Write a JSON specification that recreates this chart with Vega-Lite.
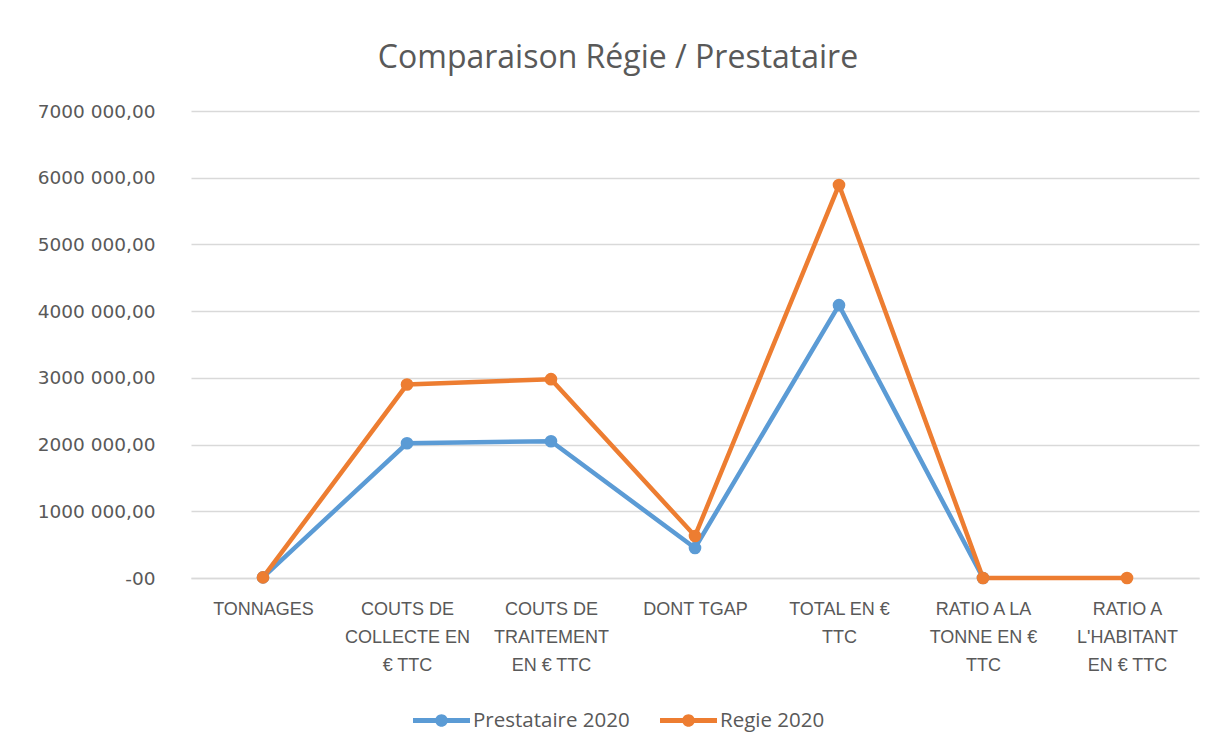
{
  "$schema": "https://vega.github.io/schema/vega-lite/v6.json",
  "autosize": "none",
  "width": 1008,
  "height": 467,
  "padding": {"left": 191, "top": 111, "right": 13, "bottom": 175},
  "background": "white",
  "title": {
    "text": "Comparaison Régie / Prestataire",
    "font": "Open Sans",
    "fontSize": 32,
    "fontWeight": "normal",
    "color": "#595959",
    "anchor": "middle",
    "dx": -77,
    "offset": 27
  },
  "config": {
    "view": {"stroke": null},
    "font": "Liberation Sans"
  },
  "data": {
    "values": [
      {"categorie": "TONNAGES", "ordre": 1, "serie": "Prestataire 2020", "valeur": 9000},
      {"categorie": "COUTS DE COLLECTE EN € TTC", "ordre": 2, "serie": "Prestataire 2020", "valeur": 2020000},
      {"categorie": "COUTS DE TRAITEMENT EN € TTC", "ordre": 3, "serie": "Prestataire 2020", "valeur": 2050000},
      {"categorie": "DONT TGAP", "ordre": 4, "serie": "Prestataire 2020", "valeur": 450000},
      {"categorie": "TOTAL EN € TTC", "ordre": 5, "serie": "Prestataire 2020", "valeur": 4090000},
      {"categorie": "RATIO A LA TONNE EN € TTC", "ordre": 6, "serie": "Prestataire 2020", "valeur": 450},
      {"categorie": "TONNAGES", "ordre": 1, "serie": "Regie 2020", "valeur": 9000},
      {"categorie": "COUTS DE COLLECTE EN € TTC", "ordre": 2, "serie": "Regie 2020", "valeur": 2900000},
      {"categorie": "COUTS DE TRAITEMENT EN € TTC", "ordre": 3, "serie": "Regie 2020", "valeur": 2980000},
      {"categorie": "DONT TGAP", "ordre": 4, "serie": "Regie 2020", "valeur": 630000},
      {"categorie": "TOTAL EN € TTC", "ordre": 5, "serie": "Regie 2020", "valeur": 5890000},
      {"categorie": "RATIO A LA TONNE EN € TTC", "ordre": 6, "serie": "Regie 2020", "valeur": 650},
      {"categorie": "RATIO A L'HABITANT EN € TTC", "ordre": 7, "serie": "Regie 2020", "valeur": 120}
    ]
  },
  "encoding": {
    "x": {
      "field": "categorie",
      "type": "nominal",
      "sort": ["TONNAGES", "COUTS DE COLLECTE EN € TTC", "COUTS DE TRAITEMENT EN € TTC", "DONT TGAP", "TOTAL EN € TTC", "RATIO A LA TONNE EN € TTC", "RATIO A L'HABITANT EN € TTC"],
      "scale": {"type": "point", "padding": 0.5},
      "axis": {
        "title": null,
        "labelAngle": 0,
        "labelFont": "Liberation Sans",
        "labelFontSize": 18,
        "labelColor": "#595959",
        "labelPadding": 22,
        "labelLineHeight": 28,
        "labelBaseline": "top",
        "ticks": false,
        "domain": true,
        "domainColor": "#D9D9D9",
        "domainWidth": 1.5,
        "grid": false,
        "labelExpr": "datum.value == 'COUTS DE COLLECTE EN € TTC' ? ['COUTS DE', 'COLLECTE EN', '€ TTC'] : datum.value == 'COUTS DE TRAITEMENT EN € TTC' ? ['COUTS DE', 'TRAITEMENT', 'EN € TTC'] : datum.value == 'TOTAL EN € TTC' ? ['TOTAL EN €', 'TTC'] : datum.value == 'RATIO A LA TONNE EN € TTC' ? ['RATIO A LA', 'TONNE EN €', 'TTC'] : datum.value == \"RATIO A L'HABITANT EN € TTC\" ? ['RATIO A', \"L'HABITANT\", 'EN € TTC'] : datum.value"
      }
    },
    "y": {
      "field": "valeur",
      "type": "quantitative",
      "scale": {"domain": [0, 7000000], "nice": false},
      "axis": {
        "title": null,
        "values": [0, 1000000, 2000000, 3000000, 4000000, 5000000, 6000000, 7000000],
        "labelExpr": "datum.value == 0 ? '-00' : (datum.value / 1000) + ' 000,00'",
        "labelFont": "DejaVu Sans",
        "labelFontSize": 18.5,
        "labelColor": "#595959",
        "labelPadding": 36,
        "ticks": false,
        "domain": false,
        "grid": true,
        "gridColor": "#D9D9D9",
        "gridWidth": 1.5
      }
    },
    "color": {
      "field": "serie",
      "type": "nominal",
      "scale": {"domain": ["Prestataire 2020", "Regie 2020"], "range": ["#5B9BD5", "#ED7D31"]},
      "legend": {
        "title": null,
        "orient": "none",
        "legendX": 222,
        "legendY": 581,
        "direction": "horizontal",
        "labelFont": "Open Sans",
        "labelFontSize": 20.5,
        "labelColor": "#595959",
        "symbolType": "M-1,-0.09H1V0.09H-1Z M-0.22,0A0.22,0.22 0 1,1 0.22,0A0.22,0.22 0 1,1 -0.22,0Z",
        "symbolSize": 3249,
        "symbolStrokeWidth": 0,
        "symbolOpacity": 1,
        "labelOffset": 3,
        "columnPadding": 30
      }
    }
  },
  "layer": [
    {
      "mark": {"type": "line", "strokeWidth": 4.5},
      "encoding": {"order": {"field": "ordre", "type": "quantitative"}}
    },
    {
      "mark": {"type": "point", "filled": true, "size": 160, "opacity": 1}
    }
  ]
}
